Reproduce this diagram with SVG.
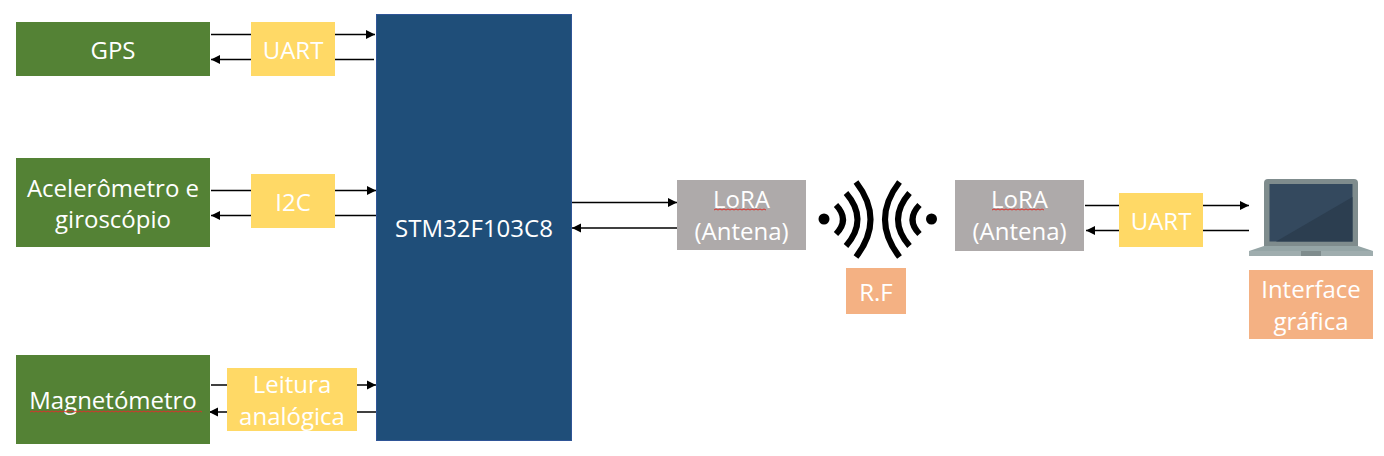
<svg xmlns="http://www.w3.org/2000/svg" width="1384" height="456" viewBox="0 0 1384 456">
<style>
text{font-family:"Open Sans","Noto Sans","Liberation Sans",sans-serif;font-size:24px;fill:#fff;text-anchor:middle}
.g{fill:#548235}.y{fill:#ffd966}.s{fill:#aeaaaa}.o{fill:#f4b183}
.c{stroke:#000;stroke-width:1.3;fill:none}
.w{stroke:#000;stroke-width:6;fill:none}
.q{stroke:#d8322c;stroke-width:1;fill:none}
</style>
<defs>
<marker id="a" markerUnits="userSpaceOnUse" markerWidth="10" markerHeight="10" refX="9" refY="5" orient="auto"><path d="M0 0.500L9 5L0 9.500z" fill="#000"/></marker>
<g id="wave"><circle cx="824" cy="219" r="5.500" fill="#000"/><path class="w" d="M836 205Q850 219.500 836 234"/><path class="w" d="M846 193Q869 219.500 846 246"/><path class="w" d="M856 182Q885 219.500 856 257"/></g>
</defs>
<g id="connectors">
<path class="c" marker-end="url(#a)" d="M211 34.500H375"/>
<path class="c" marker-end="url(#a)" d="M374 59.500H211"/>
<path class="c" marker-end="url(#a)" d="M211 190.500H376"/>
<path class="c" marker-end="url(#a)" d="M376 215.500H211"/>
<path class="c" marker-end="url(#a)" d="M211 385H376"/>
<path class="c" marker-end="url(#a)" d="M376 412H209"/>
<path class="c" marker-end="url(#a)" d="M572 202.500H677"/>
<path class="c" marker-end="url(#a)" d="M677 228H572"/>
<path class="c" marker-end="url(#a)" d="M1085 205.500H1249"/>
<path class="c" marker-end="url(#a)" d="M1249 230.500H1086"/>
</g>
<g id="gps"><rect class="g" x="16" y="22" width="194" height="54"/><text x="113" y="59">GPS</text></g>
<g id="acel"><rect class="g" x="16" y="158" width="194" height="89"/><text x="113" y="197">Acelerômetro e</text><text x="113" y="228">giroscópio</text></g>
<g id="mag"><rect class="g" x="16" y="355" width="194" height="89"/><text x="113" y="409">Magnetómetro</text><path class="q" d="M30 412l2 -1 2 1 2 -1 2 1 2 -1 2 1 2 -1 2 1 2 -1 2 1 2 -1 2 1 2 -1 2 1 2 -1 2 1 2 -1 2 1 2 -1 2 1 2 -1 2 1 2 -1 2 1 2 -1 2 1 2 -1 2 1 2 -1 2 1 2 -1 2 1 2 -1 2 1 2 -1 2 1 2 -1 2 1 2 -1 2 1 2 -1 2 1 2 -1 2 1 2 -1 2 1 2 -1 2 1 2 -1 2 1 2 -1 2 1 2 -1 2 1 2 -1 2 1 2 -1 2 1 2 -1 2 1 2 -1 2 1 2 -1 2 1 2 -1 2 1 2 -1 2 1 2 -1 2 1 2 -1 2 1 2 -1 2 1 2 -1 2 1 2 -1 2 1 2 -1 2 1 2 -1 2 1 2 -1 2 1 2 -1 2 1"/></g>
<g id="uart1"><rect class="y" x="251" y="22" width="84" height="54"/><text x="293" y="59">UART</text></g>
<g id="i2c"><rect class="y" x="251" y="174" width="84" height="54"/><text x="293" y="211">I2C</text></g>
<g id="leitura"><rect class="y" x="227" y="368" width="130" height="63"/><text x="292" y="393">Leitura</text><text x="292" y="425">analógica</text></g>
<g id="stm"><rect x="376.500" y="14.500" width="195" height="426" fill="#1f4e79" stroke="#2f5597"/><text x="474" y="237">STM32F103C8</text></g>
<g id="lora1"><rect class="s" x="677" y="180" width="129" height="70"/><text x="741.500" y="208">LoRA</text><text x="741.500" y="240">(Antena)</text><path class="q" d="M714 210l2 -1 2 1 2 -1 2 1 2 -1 2 1 2 -1 2 1 2 -1 2 1 2 -1 2 1 2 -1 2 1 2 -1 2 1 2 -1 2 1 2 -1 2 1 2 -1 2 1 2 -1 2 1 2 -1 2 1"/></g>
<g id="rf-waves"><use href="#wave"/><use href="#wave" transform="matrix(-1 0 0 1 1755.500 0)"/></g>
<g id="rf"><rect class="o" x="846" y="268" width="60" height="46"/><text x="876" y="301">R.F</text></g>
<g id="lora2"><rect class="s" x="955" y="180" width="129" height="71"/><text x="1019.500" y="208">LoRA</text><text x="1019.500" y="240">(Antena)</text><path class="q" d="M992 210l2 -1 2 1 2 -1 2 1 2 -1 2 1 2 -1 2 1 2 -1 2 1 2 -1 2 1 2 -1 2 1 2 -1 2 1 2 -1 2 1 2 -1 2 1 2 -1 2 1 2 -1 2 1 2 -1 2 1"/></g>
<g id="uart2"><rect class="y" x="1119" y="193" width="84" height="54"/><text x="1161" y="230">UART</text></g>
<g id="laptop">
<path d="M1268 179H1354Q1358 179 1358 183V247H1264V183Q1264 179 1268 179z" fill="#7f8c8d"/>
<rect x="1269.500" y="184" width="83" height="57.500" fill="#34495e"/>
<path d="M1352.500 197V241.500H1276z" fill="#2c3e50"/>
<path d="M1264 246H1358L1373 251V256H1249V251z" fill="#95a5a6"/>
<path d="M1249 251H1373V256H1249z" fill="#9fadae"/>
<rect x="1301" y="251" width="20" height="5" fill="#7f8c8d"/>
</g>
<g id="interface"><rect class="o" x="1249" y="270" width="124" height="69"/><text x="1311" y="298">Interface</text><text x="1311" y="330">gráfica</text></g>
</svg>
